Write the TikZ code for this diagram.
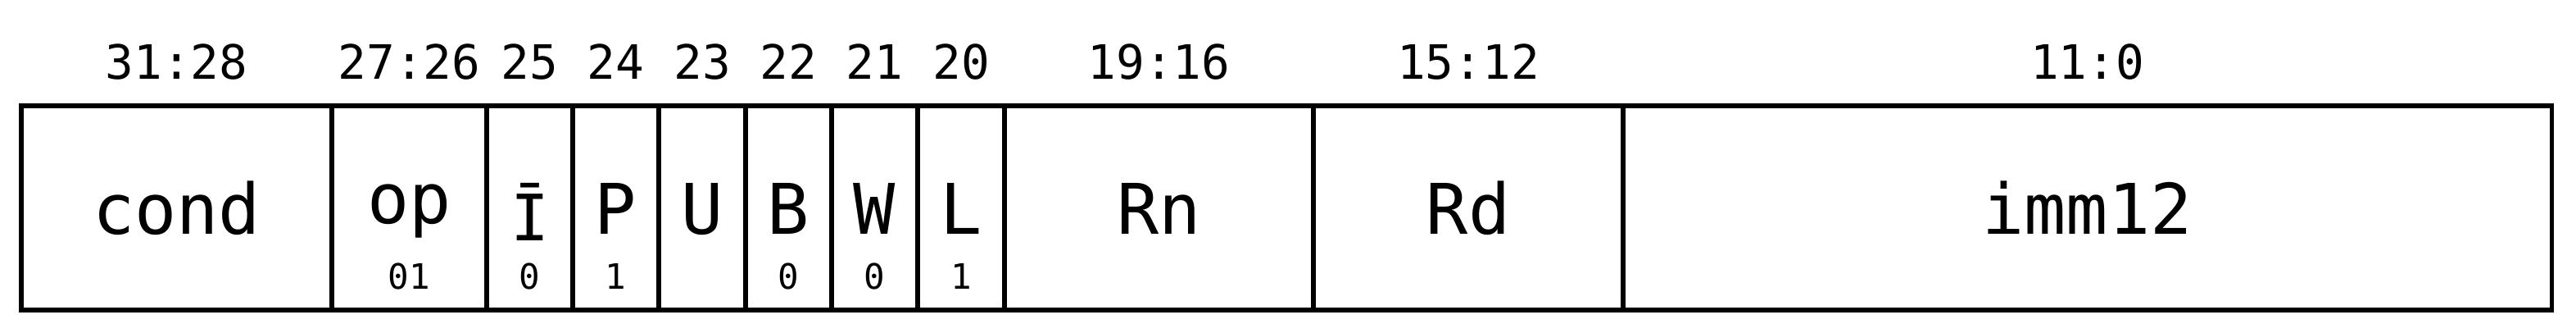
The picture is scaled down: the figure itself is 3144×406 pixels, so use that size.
\documentclass[tikz,border=0pt]{standalone}
\usepackage{fontspec}
\newfontfamily\mono{DejaVu Sans Mono}
\begin{document}
\begin{tikzpicture}[x=0.01cm,y=-0.01cm,
  field/.style={draw=black,line width=1.5pt,inner sep=0pt,outer sep=0pt,minimum height=2.49cm},
  bitlbl/.style={anchor=base,inner sep=0pt,font=\mono\fontsize{16.4}{18}\selectfont},
  fname/.style={anchor=base,inner sep=0pt,font=\mono\fontsize{24.2}{28}\selectfont},
  fval/.style={anchor=base,inner sep=0pt,font=\mono\fontsize{12.1}{14}\selectfont}]
\useasboundingbox (0,0) rectangle (3144,406);
% fields
\node[field,minimum width=3.79cm]  (cond) at (215.5,253.5) {};
\node[field,minimum width=1.89cm]  (op)   at (499.5,253.5) {};
\node[field,minimum width=1.05cm]  (ib)   at (646.5,253.5) {};
\node[field,minimum width=1.05cm]  (p)    at (751.5,253.5) {};
\node[field,minimum width=1.06cm]  (u)    at (857,253.5) {};
\node[field,minimum width=1.05cm]  (b)    at (962.5,253.5) {};
\node[field,minimum width=1.05cm]  (w)    at (1067.5,253.5) {};
\node[field,minimum width=1.06cm]  (l)    at (1173,253.5) {};
\node[field,minimum width=3.77cm]  (rn)   at (1414.5,253.5) {};
\node[field,minimum width=3.78cm]  (rd)   at (1792,253.5) {};
\node[field,minimum width=11.33cm] (imm)  at (2547.5,253.5) {};
% bit labels
\node[bitlbl] (bcond) at (215.5,97) {31:28};
\node[bitlbl] (bop)   at (499.5,97) {27:26};
\node[bitlbl] (bib)   at (646.5,97) {25};
\node[bitlbl] (bp)    at (751.5,97) {24};
\node[bitlbl] (bu)    at (857,97) {23};
\node[bitlbl] (bb)    at (962.5,97) {22};
\node[bitlbl] (bw)    at (1067.5,97) {21};
\node[bitlbl] (bl)    at (1173,97) {20};
\node[bitlbl] (brn)   at (1414.5,97) {19:16};
\node[bitlbl] (brd)   at (1792,97) {15:12};
\node[bitlbl] (bimm)  at (2547.5,97) {11:0};
% field names
\node[fname] (ncond) at (215.5,285) {cond};
\node[fname] (nop)   at (499.5,272) {op};
\node[anchor=base,inner sep=0pt,font=\mono\fontsize{22.2}{26}\selectfont] (nib) at (646.5,293) {Ī};
\node[fname] (np)    at (751.5,285) {P};
\node[fname] (nu)    at (857,285) {U};
\node[fname] (nb)    at (962.5,285) {B};
\node[fname] (nw)    at (1067.5,285) {W};
\node[fname] (nl)    at (1173,285) {L};
\node[fname] (nrn)   at (1414.5,285) {Rn};
\node[fname] (nrd)   at (1792,285) {Rd};
\node[fname] (nimm)  at (2547.5,285) {imm12};
% fixed values
\node[fval] (vop) at (499.5,352) {01};
\node[fval] (vib) at (646.5,352) {0};
\node[fval] (vp)  at (751.5,352) {1};
\node[fval] (vb)  at (962.5,352) {0};
\node[fval] (vw)  at (1067.5,352) {0};
\node[fval] (vl)  at (1173,352) {1};
\end{tikzpicture}
\end{document}
